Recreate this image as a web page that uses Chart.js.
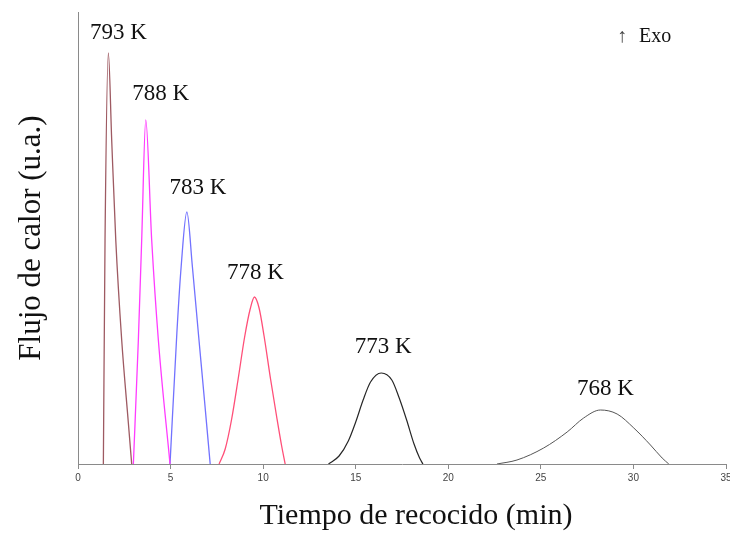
<!DOCTYPE html>
<html>
<head>
<meta charset="utf-8">
<script src="https://cdn.jsdelivr.net/npm/chart.js@4/dist/chart.umd.min.js"></script>
<style>
  html, body { margin: 0; padding: 0; background: #fff; }
  #wrap { width: 730px; height: 533px; }
</style>
</head>
<body>
<div id="wrap"><canvas id="dsc" width="730" height="533"></canvas></div>
<script>
// Isothermal DSC traces: annealing time (min) vs heat flow (a.u.)
var temps = ['793 K', '788 K', '783 K', '778 K', '773 K', '768 K'];

var t793 = [1.37, 1.46, 1.64, 1.82, 2.04, 2.36, 2.72, 2.90];
var f793 = [0, 2.24, 4.11, 3.24, 2.24, 1.24, 0.41, 0];

var t788 = [2.99, 3.26, 3.44, 3.66, 3.98, 4.34, 4.97];
var f788 = [0, 1.24, 2.24, 3.44, 2.24, 1.24, 0];

var t783 = [4.97, 5.34, 5.57, 5.88, 6.18, 6.50, 6.83, 7.14];
var f783 = [0, 1.31, 1.97, 2.52, 1.97, 1.31, 0.64, 0];

var t778 = [7.62, 7.95, 8.30, 8.65, 9.00, 9.30, 9.53, 9.78, 10.05, 10.40, 10.75, 11.00, 11.19];
var f778 = [0, 0.15, 0.45, 0.85, 1.27, 1.55, 1.67, 1.56, 1.28, 0.85, 0.45, 0.18, 0];

var t773 = [13.53, 14.10, 14.60, 15.00, 15.40, 15.80, 16.38, 16.95, 17.35, 17.75, 18.15, 18.45, 18.63];
var f773 = [0, 0.08, 0.23, 0.42, 0.64, 0.82, 0.91, 0.84, 0.66, 0.44, 0.20, 0.06, 0];

var t768 = [22.63, 23.71, 25.15, 26.42, 27.31, 28.22, 29.12, 30.02, 30.92, 31.55, 31.91];
var f768 = [0, 0.04, 0.16, 0.32, 0.46, 0.54, 0.50, 0.36, 0.19, 0.06, 0];

var xTicks = [0, 5, 10, 15, 20, 25, 30, 35];
var fluxMax = 4.52;

var times = [t793, t788, t783, t778, t773, t768];
var fluxes = [f793, f788, f783, f778, f773, f768];

// line look per trace
var colors = ['#9e5a62', '#ff3cff', '#7272ff', '#ff4f78', '#262626', '#555555'];
var widths = [1.3, 1.3, 1.3, 1.3, 1.2, 1.0];
// nudges for the temperature tags above each peak (px)
var tagDx = [10, 15, 11, 1, 2, 5];
var tagDy = [20, 26, 24, 24, 26, 21];

var SERIF = '"Liberation Serif", "Times New Roman", serif';

function toPoints(xs, ys) {
    return xs.map(function (x, i) { return { x: x, y: ys[i] }; });
}

var datasets = temps.map(function (name, i) {
    return {
        label: name,
        data: toPoints(times[i], fluxes[i]),
        borderColor: colors[i],
        borderWidth: widths[i],
        showLine: true,
        fill: false,
        pointRadius: 0,
        cubicInterpolationMode: 'monotone'
    };
});

// temperature tags, axis title and the "Exo" marker
var annotate = {
    id: 'annotate',
    afterDatasetsDraw: function (chart) {
        var ctx = chart.ctx;
        ctx.save();
        ctx.fillStyle = '#111';
        ctx.textAlign = 'center';
        ctx.textBaseline = 'middle';
        ctx.font = '23px ' + SERIF;
        chart.data.datasets.forEach(function (ds, i) {
            var ys = fluxes[i];
            var k = ys.indexOf(Math.max.apply(null, ys));
            var pt = chart.getDatasetMeta(i).data[k];
            ctx.fillText(temps[i], pt.x + tagDx[i], pt.y - tagDy[i]);
        });

        ctx.font = '30px ' + SERIF;
        ctx.fillText('Tiempo de recocido (min)', 416, 516);

        ctx.font = '20px ' + SERIF;
        ctx.fillStyle = '#444';
        ctx.fillText('\u2191', 622, 37);
        ctx.fillStyle = '#111';
        ctx.textAlign = 'left';
        ctx.fillText('Exo', 639, 37);
        ctx.restore();
    }
};

new Chart(document.getElementById('dsc'), {
    type: 'scatter',
    data: { datasets: datasets },
    plugins: [annotate],
    options: {
        responsive: false,
        animation: false,
        layout: { padding: { top: 12, right: 4, left: 0, bottom: 0 } },
        plugins: { legend: { display: false }, tooltip: { enabled: false } },
        scales: {
            x: {
                type: 'linear',
                min: 0,
                max: 35,
                afterBuildTicks: function (scale) {
                    scale.ticks = xTicks.map(function (v) { return { value: v }; });
                },
                afterFit: function (scale) {
                    scale.height = 69;
                    scale.paddingLeft = 0;
                    scale.paddingRight = 0;
                },
                grid: { display: true, drawOnChartArea: false, tickLength: 5, color: '#8a8a8a' },
                border: { display: true, color: '#8a8a8a', width: 1 },
                ticks: {
                    padding: 3,
                    color: '#444',
                    font: { family: '"Liberation Sans", Arial, sans-serif', size: 10 }
                }
            },
            y: {
                min: 0,
                max: fluxMax,
                afterFit: function (scale) { scale.width = 78; },
                grid: { display: false },
                border: { display: true, color: '#8a8a8a', width: 1 },
                ticks: { display: false },
                title: {
                    display: true,
                    text: 'Flujo de calor (u.a.)',
                    color: '#111',
                    padding: { top: 13, bottom: 0 },
                    font: { family: SERIF, size: 31 }
                }
            }
        }
    }
});
</script>
</body>
</html>
